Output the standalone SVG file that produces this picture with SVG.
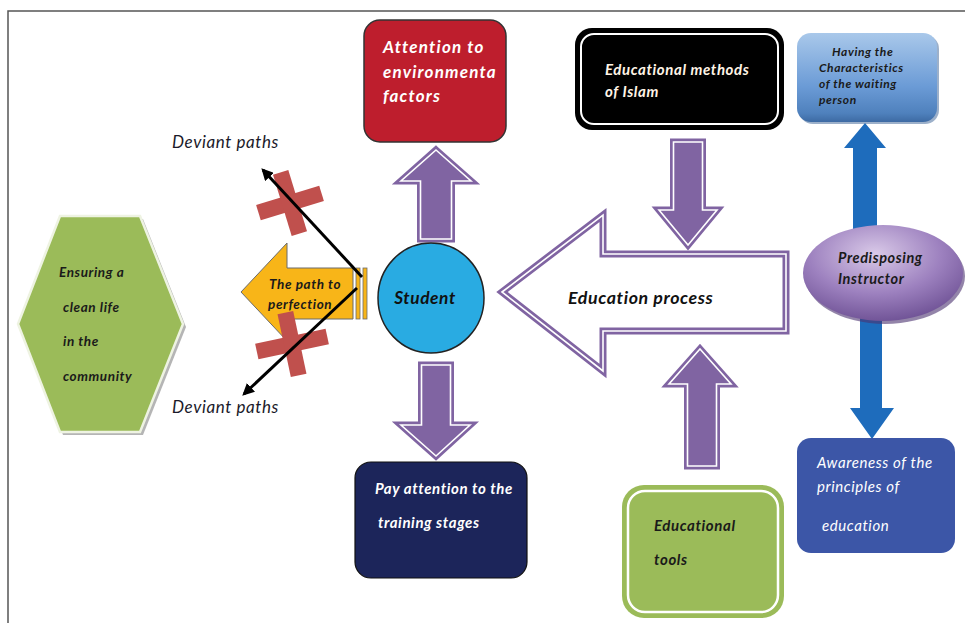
<svg xmlns="http://www.w3.org/2000/svg" width="965" height="623" viewBox="0 0 965 623">
<defs>
<style>
.t{font-family:Lato,"Liberation Sans",sans-serif;font-style:italic;font-weight:bold;letter-spacing:0.6px}
.n{font-family:Lato,"Liberation Sans",sans-serif;font-style:italic;font-weight:normal;letter-spacing:0.6px}
.pa{fill:#8064a2;stroke:#8064a2;stroke-width:7;stroke-linejoin:miter}
.pw{fill:none;stroke:#ffffff;stroke-width:1.6;stroke-linejoin:miter}
.ba{fill:#1e6cbc}
.cross{fill:#c0504d}
.dev{stroke:#000;stroke-width:3;fill:none}
</style>
<marker id="ah" viewBox="0 0 10 10" refX="8" refY="5" markerWidth="4" markerHeight="4" orient="auto" markerUnits="strokeWidth">
<path d="M0,0 L10,5 L0,10 z" fill="#000"/>
</marker>
<linearGradient id="lb" x1="0" y1="0" x2="0" y2="1">
<stop offset="0" stop-color="#a9c8ea"/>
<stop offset="0.6" stop-color="#6b9bd6"/>
<stop offset="0.9" stop-color="#4f81bd"/>
<stop offset="1" stop-color="#3d6aa3"/>
</linearGradient>
<radialGradient id="pg" cx="0.45" cy="0.3" r="0.75">
<stop offset="0" stop-color="#d9c9e8"/>
<stop offset="0.55" stop-color="#9d81bf"/>
<stop offset="1" stop-color="#6a4d91"/>
</radialGradient>
</defs>
<rect width="965" height="623" fill="#ffffff"/>
<path d="M8,640 L8,11 L965,11" fill="none" stroke="#555" stroke-width="1.5"/>

<g id="connectors">
<polygon class="pa" points="436,150 471,181 451.5,181 451.5,239 420.5,239 420.5,181 401,181"/>
<polygon class="pw" points="436,150 471,181 451.5,181 451.5,239 420.5,239 420.5,181 401,181"/>
<polygon class="pa" points="421.5,365 450.5,365 450.5,425 470,425 436,456 401,425 421.5,425"/>
<polygon class="pw" points="421.5,365 450.5,365 450.5,425 470,425 436,456 401,425 421.5,425"/>
<polygon class="pa" points="673.5,142 702.5,142 702.5,210 717,210 688,245 659,210 673.5,210"/>
<polygon class="pw" points="673.5,142 702.5,142 702.5,210 717,210 688,245 659,210 673.5,210"/>
<polygon class="pa" points="700,349 731,384 716.5,384 716.5,466 687.5,466 687.5,384 669,384"/>
<polygon class="pw" points="700,349 731,384 716.5,384 716.5,466 687.5,466 687.5,384 669,384"/>
<polygon class="ba" points="865,123 886,148 877,148 877,235 853,235 853,148 844,148"/>
<polygon class="ba" points="860,310 882,310 882,408 894,408 872,439 850,408 860,408"/>
</g>

<g id="education-process">
<polygon points="502,292 603,215 603,254 786,254 786,331 603,331 603,371" fill="#fff" stroke="#8064a2" stroke-width="7" stroke-linejoin="miter"/>
<polygon points="502,292 603,215 603,254 786,254 786,331 603,331 603,371" fill="none" stroke="#fff" stroke-width="1.6" stroke-linejoin="miter"/>
<text class="t" x="568" y="304" font-size="17.8" fill="#111">Education process</text>
</g>

<g id="attention-env">
<rect x="364" y="20" width="142" height="122" rx="16" fill="#be1e2d" stroke="#333" stroke-width="1.5"/>
<text class="t" x="383" y="53" font-size="17" fill="#fff" style="letter-spacing:1.2px">Attention to</text>
<text class="t" x="383" y="78" font-size="17" fill="#fff" style="letter-spacing:1.2px">environmenta</text>
<text class="t" x="383" y="102" font-size="17" fill="#fff" style="letter-spacing:1.2px">factors</text>
</g>

<g id="student">
<ellipse cx="431" cy="298" rx="53" ry="55" fill="#29abe2" stroke="#222" stroke-width="1.5"/>
<text class="t" x="425" y="304" font-size="17.3" fill="#111" text-anchor="middle">Student</text>
</g>

<g id="training-stages">
<rect x="355" y="462" width="172" height="116" rx="16" fill="#1c255a" stroke="#111" stroke-width="1.2"/>
<text class="t" x="375" y="494" font-size="15" fill="#fff">Pay attention to the</text>
<text class="t" x="378" y="528" font-size="15" fill="#fff">training stages</text>
</g>

<g id="methods-islam">
<rect x="575" y="28" width="209" height="102" rx="17" fill="#000"/>
<rect x="581" y="34" width="197" height="90" rx="13" fill="none" stroke="#fff" stroke-width="2"/>
<text class="t" x="605" y="75" font-size="15" fill="#fff4e6">Educational methods</text>
<text class="t" x="605" y="97" font-size="15" fill="#fff4e6">of Islam</text>
</g>

<g id="waiting-person">
<rect x="799" y="35" width="140" height="89" rx="14" fill="#3a6296" opacity="0.5"/>
<rect x="797" y="33" width="140" height="89" rx="14" fill="url(#lb)"/>
<text class="t" x="832" y="56" font-size="12" fill="#1a1a1a">Having the</text>
<text class="t" x="819" y="72" font-size="12" fill="#1a1a1a">Characteristics</text>
<text class="t" x="819" y="88" font-size="12" fill="#1a1a1a">of the waiting</text>
<text class="t" x="819" y="104" font-size="12" fill="#1a1a1a">person</text>
</g>

<g id="instructor">
<ellipse cx="885" cy="276" rx="80" ry="48" fill="#4b3270" opacity="0.6"/>
<ellipse cx="883" cy="273" rx="80" ry="48" fill="url(#pg)"/>
<text class="t" x="838" y="263" font-size="14.5" fill="#1a1a1a">Predisposing</text>
<text class="t" x="838" y="284" font-size="14.5" fill="#1a1a1a">Instructor</text>
</g>

<g id="awareness">
<rect x="797" y="438" width="158" height="115" rx="14" fill="#3c56a7"/>
<text class="n" x="817" y="468" font-size="15" fill="#fff">Awareness of the</text>
<text class="n" x="817" y="492" font-size="15" fill="#fff">principles of</text>
<text class="n" x="822" y="531" font-size="15" fill="#fff">education</text>
</g>

<g id="educational-tools">
<rect x="622" y="485" width="162" height="133" rx="22" fill="#9bbb59"/>
<rect x="628" y="491" width="150" height="121" rx="17" fill="none" stroke="#fff" stroke-width="2.5"/>
<text class="t" x="654" y="531" font-size="15" fill="#1a1a1a">Educational</text>
<text class="t" x="654" y="565" font-size="15" fill="#1a1a1a">tools</text>
</g>

<g id="clean-life">
<polygon points="63,219 143,219 186,327 143,435 63,435 21,327" fill="#b5b5b5"/>
<polygon points="60,216 140,216 183,324 140,432 60,432 18,324" fill="#9bbb59" stroke="#eef3e2" stroke-width="2.5"/>
<text class="t" x="59" y="277" font-size="13.5" fill="#1a1a1a">Ensuring a</text>
<text class="t" x="63" y="312" font-size="13.5" fill="#1a1a1a">clean life</text>
<text class="t" x="63" y="346" font-size="13.5" fill="#1a1a1a">in the</text>
<text class="t" x="63" y="381" font-size="13.5" fill="#1a1a1a">community</text>
</g>

<g id="path-perfection">
<polygon points="241,292 287,243 287,268 353,268 353,319 287,319 287,341" fill="#f8b518" stroke="#6b6b6b" stroke-width="1"/>
<rect x="356" y="268" width="4" height="51" fill="#f8b518" stroke="#6b6b6b" stroke-width="0.8"/>
<rect x="363" y="268" width="4" height="51" fill="#f8b518" stroke="#6b6b6b" stroke-width="0.8"/>
<text class="t" x="269" y="289" font-size="13.5" fill="#1a1a1a">The path to</text>
<text class="t" x="268" y="309" font-size="13.5" fill="#1a1a1a">perfection</text>
</g>

<g id="deviant-paths">
<g transform="translate(290,203) rotate(-17)"><rect class="cross" x="-33" y="-8" width="66" height="16"/><rect class="cross" x="-8" y="-32" width="16" height="64"/></g>
<g transform="translate(292,344) rotate(-12)"><rect class="cross" x="-36" y="-8" width="72" height="16"/><rect class="cross" x="-8" y="-32" width="16" height="64"/></g>
<line class="dev" x1="362" y1="277" x2="263" y2="170" marker-end="url(#ah)"/>
<line class="dev" x1="357" y1="288" x2="244" y2="394" marker-end="url(#ah)"/>
<text class="n" x="172" y="148" font-size="17" fill="#1a1a2a">Deviant paths</text>
<text class="n" x="172" y="413" font-size="17" fill="#1a1a2a">Deviant paths</text>
</g>
</svg>
